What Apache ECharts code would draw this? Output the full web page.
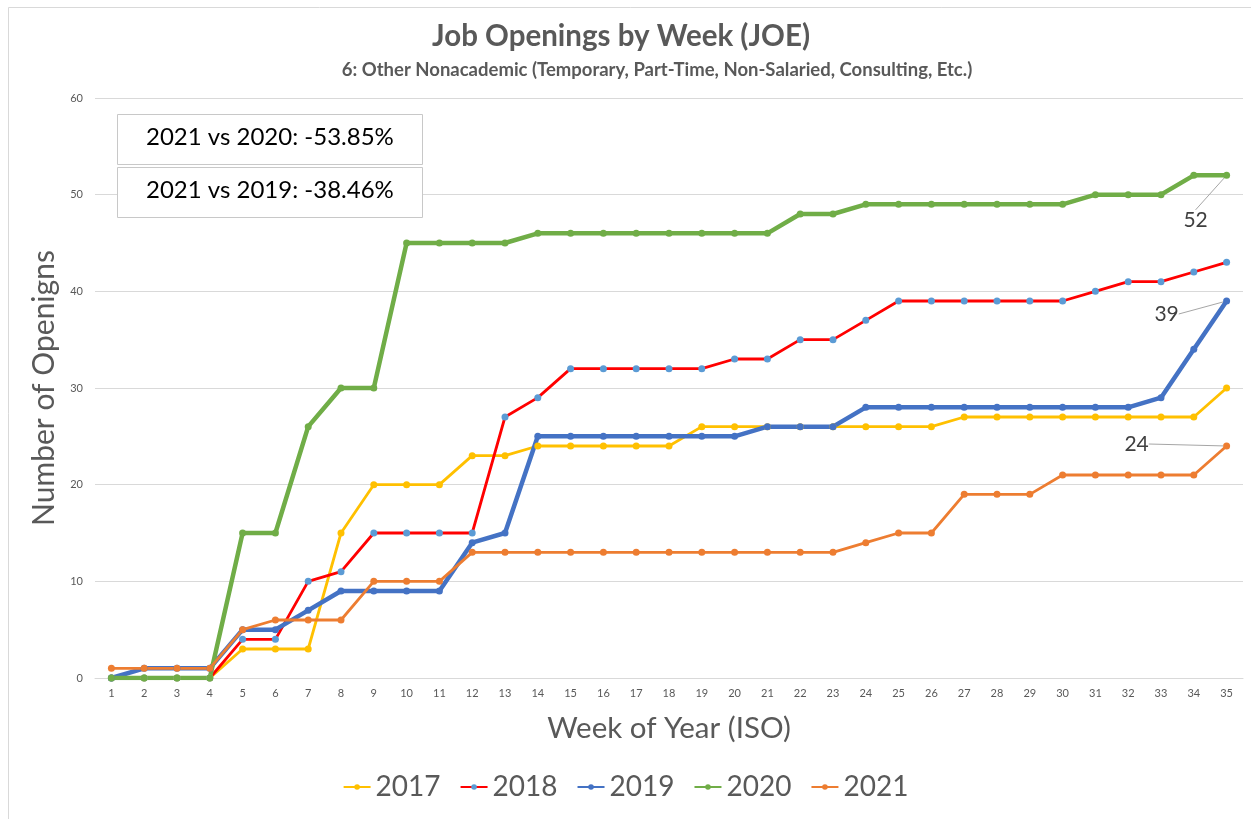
<!DOCTYPE html>
<html>
<head>
<meta charset="utf-8">
<script src="https://cdn.jsdelivr.net/npm/echarts@6/dist/echarts.min.js"></script>
<style>
html,body{margin:0;padding:0;background:#fff;}
#main{width:1251px;height:819px;}
</style>
</head>
<body>
<div id="main"></div>
<script>
const weeks = ['1','2','3','4','5','6','7','8','9','10','11','12','13','14','15','16','17','18','19','20','21','22','23','24','25','26','27','28','29','30','31','32','33','34','35'];
const yTicks = [0, 10, 20, 30, 40, 50, 60];
const s2017 = [0,0,0,0,3,3,3,15,20,20,20,23,23,24,24,24,24,24,26,26,26,26,26,26,26,26,27,27,27,27,27,27,27,27,30];
const s2018 = [0,0,0,0,4,4,10,11,15,15,15,15,27,29,32,32,32,32,32,33,33,35,35,37,39,39,39,39,39,39,40,41,41,42,43];
const s2019 = [0,1,1,1,5,5,7,9,9,9,9,14,15,25,25,25,25,25,25,25,26,26,26,28,28,28,28,28,28,28,28,28,29,34,39];
const s2020 = [0,0,0,0,15,15,26,30,30,45,45,45,45,46,46,46,46,46,46,46,46,48,48,49,49,49,49,49,49,49,50,50,50,52,52];
const s2021 = [1,1,1,1,5,6,6,6,10,10,10,13,13,13,13,13,13,13,13,13,13,13,13,14,15,15,19,19,19,21,21,21,21,21,24];
const seriesNames = ['2017','2018','2019','2020','2021'];
const notes = ['2021 vs 2020: -53.85%', '2021 vs 2019: -38.46%'];

const FONT = 'Lato, "Open Sans", sans-serif';
const chart = echarts.init(document.getElementById('main'), null, {renderer:'canvas'});

function lastLabel(arr) {
  return arr.map((v, i) => i === arr.length - 1 ? {
    value: v,
    label: {show: true, position: 'inside', formatter: '{c}', fontSize: 21, color: '#404040', fontFamily: FONT}
  } : v);
}

function mk(name, data, color, width, markerColor, extra) {
  return Object.assign({
    name: name,
    type: 'line',
    data: data,
    symbol: 'circle',
    symbolSize: 7,
    lineStyle: {color: color, width: width},
    itemStyle: {color: markerColor || color, borderWidth: 0},
    emphasis: {disabled: true},
    animation: false
  }, extra || {});
}

function labelled(dx, dy) {
  return {
    labelLayout: {dx: dx, dy: dy},
    labelLine: {show: true, smooth: false, lineStyle: {color: '#a6a6a6', width: 1}}
  };
}

const option = {
  backgroundColor: '#fff',
  textStyle: {fontFamily: FONT},
  title: [
    {text: 'Job Openings by Week (JOE)', left: 616, top: 16, textAlign: 'center',
     textStyle: {fontSize: 29.5, fontWeight: 'bold', color: '#595959', fontFamily: FONT}},
    {text: '6: Other Nonacademic (Temporary, Part-Time, Non-Salaried, Consulting, Etc.)', left: 652, top: 56, textAlign: 'center',
     textStyle: {fontSize: 18.5, fontWeight: 'bold', color: '#595959', fontFamily: FONT}}
  ],
  grid: {left: 95, right: 8, top: 98, bottom: 141, containLabel: false},
  legend: {
    data: seriesNames,
    bottom: 13,
    left: 'center',
    itemWidth: 27,
    itemHeight: 7,
    itemGap: 19,
    textStyle: {fontSize: 28, color: '#595959', fontFamily: FONT},
    selectedMode: false
  },
  xAxis: {
    type: 'category',
    data: weeks,
    boundaryGap: true,
    axisLine: {lineStyle: {color: '#d9d9d9', width: 1}},
    axisTick: {show: false},
    axisLabel: {fontSize: 11, color: '#595959', margin: 10, interval: 0},
    name: 'Week of Year (ISO)',
    nameLocation: 'middle',
    nameGap: 35,
    nameTextStyle: {fontSize: 29.5, color: '#595959', fontFamily: FONT}
  },
  yAxis: {
    type: 'value',
    min: yTicks[0],
    max: yTicks[yTicks.length - 1],
    interval: 10,
    axisLine: {show: false},
    axisTick: {show: false},
    splitLine: {lineStyle: {color: '#d9d9d9', width: 1}},
    axisLabel: {fontSize: 11, color: '#595959', margin: 12},
    name: 'Number of Openigns',
    nameLocation: 'middle',
    nameRotate: 90,
    nameGap: 17,
    nameTextStyle: {fontSize: 30, color: '#595959', fontFamily: FONT}
  },
  series: [
    mk('2017', s2017, '#FFC000', 2.8),
    mk('2018', s2018, '#FF0000', 2.8, '#5B9BD5'),
    mk('2019', lastLabel(s2019), '#4472C4', 4.5, null, labelled(-60, 13)),
    mk('2020', lastLabel(s2020), '#70AD47', 4.5, null, labelled(-31, 45)),
    mk('2021', lastLabel(s2021), '#ED7D31', 2.8, null, labelled(-90, -2))
  ],
  graphic: [
    {type: 'rect', left: 6, top: 5, shape: {width: 1300, height: 900}, style: {fill: 'none', stroke: '#d9d9d9', lineWidth: 1}, silent: true, z: 100},
    {type: 'rect', left: 117, top: 114, shape: {width: 305, height: 50}, style: {fill: '#fff', stroke: '#c8c8c8', lineWidth: 1}, z: 100},
    {type: 'text', left: 146, top: 125, style: {text: notes[0], fontSize: 24, fill: '#000', fontFamily: FONT}, z: 101},
    {type: 'rect', left: 117, top: 167, shape: {width: 305, height: 50}, style: {fill: '#fff', stroke: '#c8c8c8', lineWidth: 1}, z: 100},
    {type: 'text', left: 146, top: 178, style: {text: notes[1], fontSize: 24, fill: '#000', fontFamily: FONT}, z: 101}
  ]
};
chart.setOption(option);
</script>
</body>
</html>
